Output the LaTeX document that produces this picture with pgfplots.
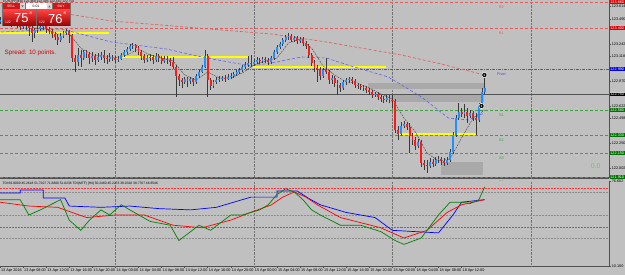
\documentclass[border=0pt]{standalone}
\usepackage{fontspec}
\setmainfont{Liberation Sans}
\usepackage{pgfplots}
\usepackage{pgfplotstable}
\pgfplotsset{compat=1.18}
\definecolor{bgc}{HTML}{C0C0C0}
\definecolor{bull}{HTML}{1E90FF}
\definecolor{bear}{HTML}{FF1A1A}
\definecolor{wick}{HTML}{3A3A3A}
\definecolor{rline}{HTML}{E65A5A}
\definecolor{gline}{HTML}{3FA03F}
\definecolor{pline}{HTML}{4B4BE6}
\definecolor{yline}{HTML}{FFFF00}
\definecolor{zone}{HTML}{A9A9A9}
\definecolor{bidc}{HTML}{555555}
\definecolor{frame}{HTML}{505050}
\definecolor{mablue}{HTML}{6060F0}
\definecolor{mared}{HTML}{E05858}
\definecolor{magray}{HTML}{404040}
\definecolor{btnred}{HTML}{D01818}

\pgfplotstableread{
i o h l c
0 123.46 123.51 123.44 123.48
1 123.48 123.50 123.43 123.46
2 123.46 123.53 123.45 123.50
3 123.50 123.52 123.44 123.47
4 123.47 123.49 123.41 123.44
5 123.44 123.48 123.42 123.46
6 123.46 123.48 123.40 123.43
7 123.43 123.45 123.38 123.41
8 123.41 123.46 123.39 123.44
9 123.44 123.46 123.38 123.42
10 123.42 123.44 123.32 123.40
11 123.40 123.42 123.26 123.35
12 123.35 123.40 123.30 123.38
13 123.38 123.42 123.35 123.39
14 123.39 123.43 123.37 123.41
15 123.41 123.44 123.38 123.42
16 123.42 123.43 123.35 123.39
17 123.39 123.41 123.34 123.37
18 123.37 123.39 123.30 123.34
19 123.34 123.36 123.28 123.31
20 123.31 123.34 123.23 123.28
21 123.28 123.35 123.26 123.32
22 123.32 123.37 123.30 123.35
23 123.35 123.39 123.33 123.37
24 123.37 123.38 123.25 123.33
25 123.33 123.34 123.06 123.10
26 123.10 123.13 122.96 123.06
27 123.06 123.20 123.02 123.13
28 123.13 123.18 123.01 123.10
29 123.10 123.18 123.08 123.16
30 123.16 123.18 123.10 123.14
31 123.14 123.16 123.04 123.10
32 123.10 123.16 123.06 123.12
33 123.12 123.14 123.03 123.08
34 123.08 123.15 123.06 123.11
35 123.11 123.16 123.08 123.13
36 123.13 123.18 123.05 123.10
37 123.10 123.13 123.04 123.09
38 123.09 123.15 123.06 123.11
39 123.11 123.13 123.07 123.10
40 123.10 123.12 123.05 123.08
41 123.08 123.12 123.06 123.09
42 123.09 123.15 123.08 123.13
43 123.13 123.18 123.11 123.16
44 123.16 123.21 123.14 123.19
45 123.19 123.24 123.17 123.22
46 123.22 123.25 123.19 123.23
47 123.23 123.24 123.16 123.20
48 123.20 123.22 123.13 123.16
49 123.16 123.18 123.08 123.12
50 123.12 123.14 123.05 123.08
51 123.08 123.13 123.06 123.10
52 123.10 123.14 123.07 123.11
53 123.11 123.13 123.04 123.08
54 123.08 123.15 123.06 123.12
55 123.12 123.14 123.06 123.10
56 123.10 123.12 123.04 123.07
57 123.07 123.12 123.05 123.09
58 123.09 123.12 123.04 123.08
59 123.08 123.10 123.02 123.06
60 123.06 123.11 122.99 123.01
61 123.01 123.03 122.71 122.92
62 122.92 122.94 122.82 122.88
63 122.88 122.90 122.80 122.86
64 122.86 122.91 122.84 122.89
65 122.89 122.91 122.81 122.87
66 122.87 122.91 122.84 122.89
67 122.89 122.90 122.82 122.86
68 122.86 122.94 122.84 122.92
69 122.92 122.98 122.90 122.96
70 122.96 123.03 122.95 123.01
71 123.01 123.18 123.00 123.12
72 123.12 123.14 122.71 122.88
73 122.88 122.90 122.78 122.82
74 122.82 122.88 122.80 122.86
75 122.86 122.91 122.84 122.88
76 122.88 122.92 122.86 122.89
77 122.89 122.92 122.87 122.90
78 122.90 122.93 122.86 122.89
79 122.89 122.94 122.88 122.91
80 122.91 122.95 122.89 122.92
81 122.92 122.96 122.90 122.94
82 122.94 122.98 122.92 122.96
83 122.96 123.00 122.94 122.98
84 122.98 123.03 122.96 123.01
85 123.01 123.06 122.99 123.03
86 123.03 123.12 123.01 123.05
87 123.05 123.13 123.01 123.04
88 123.04 123.09 123.02 123.06
89 123.06 123.11 123.04 123.08
90 123.08 123.10 123.04 123.07
91 123.07 123.11 123.05 123.09
92 123.09 123.11 123.05 123.08
93 123.08 123.10 123.03 123.06
94 123.06 123.12 123.04 123.10
95 123.10 123.18 123.08 123.16
96 123.16 123.23 123.14 123.21
97 123.21 123.26 123.19 123.24
98 123.24 123.30 123.22 123.28
99 123.28 123.33 123.26 123.31
100 123.31 123.35 123.28 123.32
101 123.32 123.34 123.26 123.28
102 123.28 123.32 123.26 123.30
103 123.30 123.32 123.24 123.27
104 123.27 123.31 123.25 123.29
105 123.29 123.31 123.22 123.25
106 123.25 123.27 123.19 123.22
107 123.22 123.24 123.10 123.13
108 123.13 123.15 123.02 123.05
109 123.05 123.08 122.96 123.00
110 123.00 123.03 122.86 122.98
111 122.98 123.01 122.88 122.92
112 122.92 123.00 122.90 122.98
113 122.98 123.10 122.94 122.96
114 122.96 122.98 122.84 122.88
115 122.88 122.93 122.84 122.90
116 122.90 122.92 122.81 122.85
117 122.85 122.88 122.73 122.83
118 122.83 122.85 122.76 122.80
119 122.80 122.88 122.78 122.86
120 122.86 122.90 122.83 122.88
121 122.88 122.91 122.85 122.89
122 122.89 122.91 122.84 122.87
123 122.87 122.89 122.80 122.83
124 122.83 122.85 122.79 122.82
125 122.82 122.84 122.78 122.81
126 122.81 122.83 122.77 122.80
127 122.80 122.82 122.75 122.78
128 122.78 122.80 122.73 122.76
129 122.76 122.78 122.70 122.73
130 122.73 122.76 122.71 122.74
131 122.74 122.76 122.68 122.71
132 122.71 122.73 122.66 122.69
133 122.69 122.72 122.65 122.68
134 122.68 122.73 122.66 122.70
135 122.70 122.73 122.65 122.68
136 122.68 122.73 122.60 122.67
137 122.67 122.69 122.35 122.38
138 122.38 122.42 122.28 122.34
139 122.34 122.46 122.32 122.42
140 122.42 122.47 122.40 122.44
141 122.44 122.46 122.38 122.41
142 122.41 122.45 122.15 122.32
143 122.32 122.35 122.23 122.28
144 122.28 122.31 122.18 122.22
145 122.22 122.29 122.20 122.26
146 122.26 122.28 122.01 122.05
147 122.05 122.08 121.98 122.03
148 122.03 122.08 121.95 122.02
149 122.02 122.10 122.00 122.06
150 122.06 122.09 122.01 122.04
151 122.04 122.11 122.02 122.08
152 122.08 122.12 122.05 122.09
153 122.09 122.11 122.03 122.07
154 122.07 122.10 122.02 122.05
155 122.05 122.11 122.03 122.08
156 122.08 122.19 122.06 122.16
157 122.16 122.36 122.14 122.33
158 122.33 122.53 122.31 122.50
159 122.50 122.65 122.48 122.56
160 122.56 122.60 122.51 122.54
161 122.54 122.64 122.50 122.56
162 122.56 122.60 122.45 122.52
163 122.52 122.58 122.50 122.55
164 122.55 122.57 122.47 122.50
165 122.50 122.55 122.33 122.48
166 122.48 122.65 122.46 122.62
167 122.62 122.80 122.60 122.76
168 122.76 122.92 122.74 122.80
}\candles

\newcommand{\tinyf}{\fontsize{3.8}{4.2}\selectfont}

\begin{document}
\begin{tikzpicture}
\fill[bgc] (0,0) rectangle (625bp,275bp);
\path[use as bounding box] (0,0) rectangle (625bp,275bp);

% ---------------- main price panel ----------------
\begin{axis}[
  at={(0,275bp)}, anchor=north west,
  scale only axis, width=609bp, height=178bp,
  xmin=0, xmax=211.1, ymin=121.90, ymax=123.68,
  axis background/.style={fill=bgc},
  axis x line*=bottom, axis y line*=right,
  x axis line style={frame, line width=2.2bp},
  y axis line style={frame, line width=0.8bp},
  xtick=\empty,
  extra x ticks={40,88,136,184}, extra x tick labels={},
  extra x tick style={grid=major, major grid style={black!55, densely dotted, line width=0.6bp}, major tick length=0pt},
  ytick={123.614,123.490,123.242,123.118,122.870,122.622,122.498,122.250,122.002},
  yticklabel style={font=\tinyf, inner sep=0.8bp, /pgf/number format/.cd, fixed, fixed zerofill, precision=3, assume math mode=true},
  tick align=outside, major tick length=1.8bp, tick style={frame, line width=0.5bp},
  clip mode=individual,
]
% zones
\addplot[draw=none, fill=zone] coordinates {(127.7,122.79) (167.9,122.79) (167.9,122.85) (127.7,122.85)} -- cycle;
\addplot[draw=none, fill=zone] coordinates {(135.7,122.66) (167.9,122.66) (167.9,122.73) (135.7,122.73)} -- cycle;
\addplot[draw=none, fill=zone] coordinates {(153,121.93) (167.5,121.93) (167.5,122.06) (153,122.06)} -- cycle;
% pivot levels
\addplot[rline, line width=0.7bp, dash pattern=on 3bp off 2bp] coordinates {(0,123.66) (211.1,123.66)};
\addplot[rline, line width=0.7bp, dash pattern=on 3bp off 2bp] coordinates {(0,123.40) (211.1,123.40)};
\addplot[pline, line width=0.6bp, dash pattern=on 3bp off 1bp on 1bp off 1bp] coordinates {(0,122.99) (211.1,122.99)};
\addplot[gline, line width=0.7bp, dash pattern=on 3bp off 2bp] coordinates {(0,122.58) (211.1,122.58)};
\addplot[gline, line width=0.7bp, dash pattern=on 3bp off 2bp] coordinates {(0,122.33) (211.1,122.33)};
\addplot[gline, line width=0.7bp, dash pattern=on 3bp off 2bp] coordinates {(0,122.15) (211.1,122.15)};
\addplot[gline, line width=0.7bp, dash pattern=on 3bp off 2bp] coordinates {(0,121.91) (211.1,121.91)};
% bid line
\addplot[bidc, line width=0.8bp] coordinates {(0,122.735) (211.1,122.735)};
% yellow lines
\addplot[yline, line width=1.2bp] coordinates {(0,123.35) (37.9,123.35)};
\addplot[yline, line width=1.2bp] coordinates {(41.4,123.11) (86.4,123.11)};
\addplot[yline, line width=1.2bp] coordinates {(87.8,123.01) (133.9,123.01)};
\addplot[yline, line width=1.2bp] coordinates {(138,122.34) (165,122.34)};
% moving averages
\addplot[mared, line width=0.6bp, dash pattern=on 3bp off 2bp] coordinates {(0.5,123.62) (21.3,123.55) (38.6,123.47) (55.9,123.43) (76.7,123.38) (94.1,123.34) (113.1,123.26) (139.1,123.13) (153,123.04) (167.9,122.93)};
\addplot[mablue, line width=0.6bp, dash pattern=on 3bp off 2bp] coordinates {(0.5,123.36) (21.3,123.39) (38.6,123.26) (57.7,123.19) (71.5,123.10) (87.1,123.02) (95.8,123.06) (104.5,123.11) (113.1,123.10) (122.8,123.01) (134.6,122.91) (146.1,122.71) (155.4,122.50) (162.4,122.48) (167.9,122.55)};
\addplot[magray, line width=0.4bp, dash pattern=on 2bp off 1bp] coordinates {(0,123.46) (4,123.46) (8,123.44) (12,123.40) (16,123.39) (20,123.34) (24,123.34) (28,123.20) (32,123.13) (36,123.12) (40,123.10) (44,123.13) (48,123.19) (52,123.13) (56,123.10) (60,123.07) (64,122.93) (68,122.88) (72,122.96) (76,122.90) (80,122.90) (84,122.95) (88,123.03) (92,123.07) (96,123.10) (100,123.25) (104,123.29) (108,123.20) (112,123.02) (116,122.93) (120,122.86) (124,122.85) (128,122.80) (132,122.74) (136,122.69) (140,122.50) (144,122.36) (148,122.15) (152,122.07) (156,122.09) (160,122.30) (164,122.50) (168,122.58)};
% candles: wicks
\addplot[draw=none, mark=none, forget plot, error bars/.cd, y dir=plus, y explicit, error mark=none, error bar style={draw=wick, line width=0.45bp, solid}]
  table[x=i, y=l, y error plus expr={\thisrow{h}-\thisrow{l}}] {\candles};
% bull bodies
\addplot[draw=none, mark=none, forget plot, restrict y to domain=121:124, error bars/.cd, y dir=plus, y explicit, error mark=none, error bar style={draw=bull, line width=1.9bp, solid}]
  table[x=i, y expr={\thisrow{c}>\thisrow{o} ? \thisrow{o} : 0}, y error plus expr={\thisrow{c}-\thisrow{o}}] {\candles};
% bear bodies
\addplot[draw=none, mark=none, forget plot, restrict y to domain=121:124, error bars/.cd, y dir=plus, y explicit, error mark=none, error bar style={draw=bear, line width=1.9bp, solid}]
  table[x=i, y expr={\thisrow{c}<\thisrow{o} ? \thisrow{c} : 0}, y error plus expr={\thisrow{o}-\thisrow{c}}] {\candles};
% trade markers
\addplot[only marks, mark=*, mark size=2.6bp, mark options={fill=black, draw=white, line width=0.5bp}] coordinates {(167.9,122.93) (166.9,122.62)};
\node[white, font=\fontsize{3.2}{3.5}\selectfont\bfseries] at (axis cs:167.9,122.93) {1};
\node[white, font=\fontsize{3.2}{3.5}\selectfont\bfseries] at (axis cs:166.9,122.62) {1};
% level names
\node[rline, font=\tinyf, anchor=north] at (axis cs:173.8,123.655) {R2};
\node[rline, font=\tinyf, anchor=north] at (axis cs:173.8,123.395) {R1};
\node[pline, font=\tinyf, anchor=north] at (axis cs:173.8,122.985) {Pivot};
\node[gline, font=\tinyf, anchor=north] at (axis cs:173.8,122.575) {S1};
\node[gline, font=\tinyf, anchor=north] at (axis cs:173.8,122.325) {S2};
\node[gline, font=\tinyf, anchor=north] at (axis cs:173.8,122.145) {S3};
\node[gline, font=\tinyf, anchor=north] at (axis cs:173.8,121.905) {S4};
\node[gline!70!white, font=\fontsize{7}{8}\selectfont] at (axis cs:206.5,122.02) {0.0};
% right price boxes
\node[fill=red!85!black, text=white, font=\tinyf, inner sep=0.6bp, anchor=west] at (axis cs:211.3,123.66) {123.660};
\node[fill=red!85!black, text=white, font=\tinyf, inner sep=0.6bp, anchor=west] at (axis cs:211.3,123.40) {123.400};
\node[fill=blue!85!black, text=white, font=\tinyf, inner sep=0.6bp, anchor=west] at (axis cs:211.3,122.99) {122.990};
\node[fill=black, text=white, font=\tinyf, inner sep=0.6bp, anchor=west] at (axis cs:211.3,122.735) {122.750};
\node[fill=green!45!black, text=white, font=\tinyf, inner sep=0.6bp, anchor=west] at (axis cs:211.3,122.58) {122.580};
\node[fill=green!45!black, text=white, font=\tinyf, inner sep=0.6bp, anchor=west] at (axis cs:211.3,122.33) {122.330};
\node[fill=green!45!black, text=white, font=\tinyf, inner sep=0.6bp, anchor=west] at (axis cs:211.3,122.15) {122.150};
\node[fill=green!45!black, text=white, font=\tinyf, inner sep=0.6bp, anchor=west] at (axis cs:211.3,121.91) {121.910};
\end{axis}

% ---------------- indicator panel ----------------
\begin{axis}[
  at={(0,94bp)}, anchor=north west,
  scale only axis, width=609bp, height=85bp,
  xmin=0, xmax=211.1, ymin=10.1, ymax=76.6,
  axis background/.style={fill=bgc},
  axis x line*=bottom, axis y line*=right,
  axis line style={frame, line width=0.8bp},
  xtick={0,8,...,160},
  xticklabels={13 Apr 2016,13 Apr 08:00,13 Apr 12:00,13 Apr 16:00,13 Apr 20:00,14 Apr 00:00,14 Apr 04:00,14 Apr 08:00,14 Apr 12:00,14 Apr 16:00,14 Apr 20:00,15 Apr 00:00,15 Apr 04:00,15 Apr 08:00,15 Apr 12:00,15 Apr 16:00,15 Apr 20:00,18 Apr 00:00,18 Apr 04:00,18 Apr 08:00,18 Apr 12:00},
  xticklabel style={font=\tinyf, anchor=north west, inner sep=0.6bp, xshift=0.3bp},
  extra x ticks={40,88,136,184}, extra x tick labels={},
  extra x tick style={grid=major, major grid style={black!55, densely dotted, line width=0.6bp}, major tick length=0pt},
  ytick={10.1,76.6},
  yticklabels={10.100,76.602},
  yticklabel style={font=\tinyf, inner sep=0.8bp},
  tick align=outside, major tick length=1.8bp, tick style={frame, line width=0.5bp},
  clip mode=individual,
]
\addplot[red!80!white, densely dotted, line width=0.5bp] coordinates {(0,71.1) (211.1,71.1)};
\addplot[black!45, densely dotted, line width=0.5bp] coordinates {(0,68) (211.1,68)};
\addplot[black!45, densely dotted, line width=0.5bp] coordinates {(0,50) (211.1,50)};
\addplot[red!80!white, densely dotted, line width=0.5bp] coordinates {(0,40.6) (211.1,40.6)};
\addplot[black!45, densely dotted, line width=0.5bp] coordinates {(0,32) (211.1,32)};
% blue (higher timeframe)
\addplot[blue, line width=0.7bp] coordinates {(0,67.2) (7,67.2) (7,69.6) (15,69.6) (15,63.3) (22.5,63.3) (24,57) (35,56) (45,57) (55,55) (66,54) (75,56) (87,64) (96,64) (96,68.8) (103,68.8) (107,63) (111,58) (120,52) (130,48) (136,38) (152,36) (157,50) (160,60) (164,61) (168,62)};
% red signal
\addplot[red, line width=0.7bp] coordinates {(0,60) (10,57) (20,56) (30,48) (40,50) (50,50) (60,42) (70,40) (80,46) (88,53) (94,57.8) (98,64) (102,68) (106,64) (110,58) (118,48) (125,44) (132,40) (140,32) (148,38) (155,52) (160,58) (164,60) (168,62)};
% green price line
\addplot[green!50!black, line width=0.7bp] coordinates {(0,62) (7,62) (10,50) (14,54) (21,62) (24,46) (28,38) (31,46) (35,54) (38,50) (42,58) (45,54) (52,45) (59,42) (62,30) (69,42) (73,38) (80,50) (84,50) (90,54) (93,58) (96,66) (99,70.5) (102,68) (105,62) (108,54) (111,50) (118,42) (125,42) (132,37) (137,30) (140,27) (146,32) (152,50) (156,60) (160,60) (163,59) (166,62) (168,72)};
\node[font=\fontsize{3.3}{3.6}\selectfont, anchor=north west, inner sep=0.5bp] at (axis description cs:0.003,0.99) {TDI 66.8099 45.2618 51.7207 71.8800 51.6236 TDI(MTF) [H4] 50.2460 45.2273 39.0318 38.7707 46.8546};
\end{axis}

% ---------------- trade panel & texts (pixel coordinates) ----------------
\begin{scope}[x=1bp, y=-1bp, shift={(0,275bp)}]
\node[font=\fontsize{3.3}{3.6}\selectfont, anchor=west, inner sep=0pt] at (3,1.6) {EURJPY,M30  122.468 122.495 122.410 122.750};
\fill[black!55] (2.5,2.8) rectangle (70.5,26.5);
\fill[btnred] (3,3.3) rectangle (19.5,9.5);
\node[white, font=\fontsize{3.4}{3.6}\selectfont] at (11.2,6.4) {SELL};
\fill[black!15] (20,3.3) rectangle (25,9.5);
\fill[black!60] (21.3,5.5) -- (23.7,5.5) -- (22.5,7.5) -- cycle;
\fill[white] (25.5,3.3) rectangle (46.5,9.5);
\node[font=\fontsize{3.4}{3.6}\selectfont] at (36,6.4) {0.01};
\fill[black!15] (47,3.3) rectangle (52,9.5);
\fill[black!60] (48.3,7.5) -- (50.7,7.5) -- (49.5,5.5) -- cycle;
\fill[btnred] (52.5,3.3) rectangle (70,9.5);
\node[white, font=\fontsize{3.4}{3.6}\selectfont] at (61.2,6.4) {BUY};
\shade[top color=red!75!white, bottom color=red!60!black] (3,10) rectangle (36,26);
\shade[top color=red!75!white, bottom color=red!60!black] (37,10) rectangle (70,26);
\node[white, font=\fontsize{3.4}{3.6}\selectfont, anchor=west, inner sep=0pt] at (5,22) {122};
\node[white, font=\fontsize{13}{13}\selectfont, anchor=west, inner sep=0pt] at (14,18.6) {75};
\node[white, font=\fontsize{4}{4}\selectfont, anchor=west, inner sep=0pt] at (29.5,13.5) {8};
\node[white, font=\fontsize{3.4}{3.6}\selectfont, anchor=west, inner sep=0pt] at (39,22) {122};
\node[white, font=\fontsize{13}{13}\selectfont, anchor=west, inner sep=0pt] at (48,18.6) {76};
\node[white, font=\fontsize{4}{4}\selectfont, anchor=west, inner sep=0pt] at (63.5,13.5) {8};
\node[red!85!black, font=\fontsize{6.3}{7}\selectfont, anchor=west, inner sep=0pt] at (4.5,52.5) {Spread: 10 points.};
\end{scope}
\end{tikzpicture}
\end{document}
